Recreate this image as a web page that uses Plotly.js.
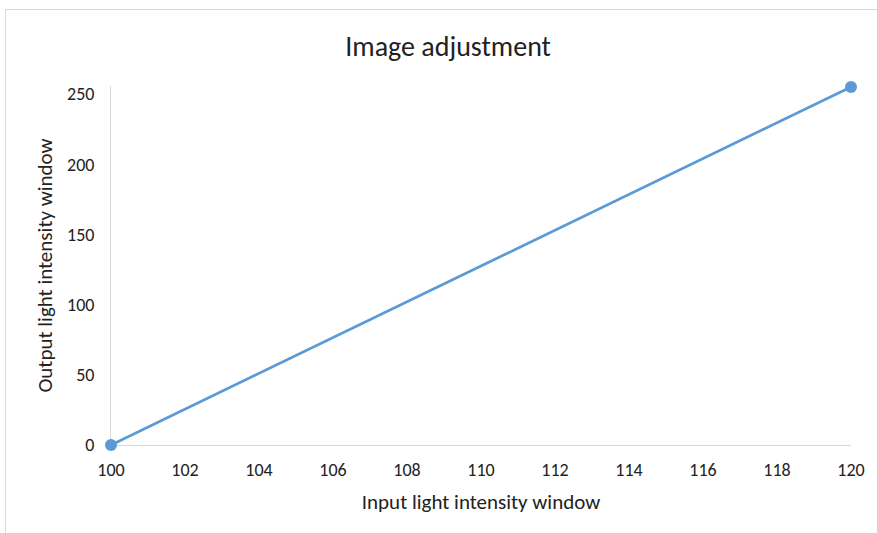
<!DOCTYPE html>
<html>
<head>
<meta charset="utf-8">
<script src="https://cdn.plot.ly/plotly-3.0.1.min.js"></script>
<style>
  html, body { margin: 0; padding: 0; background: #fff; }
  #wrap { position: relative; width: 877px; height: 533px; overflow: hidden; }
  #chart { position: absolute; left: 0; top: 0; width: 877px; height: 533px; }
  #frame { position: absolute; left: 5px; top: 9px; width: 900px; height: 600px;
           border: 1px solid #d9d9d9; pointer-events: none; }
</style>
</head>
<body>
<div id="wrap">
  <div id="chart"></div>
  <div id="frame"></div>
</div>
<script>
// Input window endpoints mapped to output intensity
const inputLevels = [100, 120];
const outputLevels = [0, 255];
const xTicks = [100, 102, 104, 106, 108, 110, 112, 114, 116, 118, 120];
const yTicks = [0, 50, 100, 150, 200, 250];

const fontFam = 'Carlito, Lato, "Open Sans", sans-serif';
const blue = '#5B9BD5';
const textCol = '#222222';

const trace = {
  x: inputLevels,
  y: outputLevels,
  type: 'scatter',
  mode: 'lines+markers',
  line: { color: blue, width: 2.75 },
  marker: { color: blue, size: 12 },
  cliponaxis: false,
  hoverinfo: 'skip'
};

const layout = {
  width: 877,
  height: 533,
  margin: { l: 111, r: 26, t: 86, b: 88 },
  paper_bgcolor: '#ffffff',
  plot_bgcolor: '#ffffff',
  showlegend: false,
  title: {
    text: 'Image adjustment',
    font: { family: fontFam, size: 28, color: textCol },
    x: 0.511, xanchor: 'center',
    y: 0.913, yanchor: 'middle'
  },
  xaxis: {
    range: [100, 120],
    tickvals: xTicks,
    ticktext: xTicks.map(String),
    showgrid: false,
    zeroline: false,
    showline: true,
    linecolor: '#d9d9d9',
    linewidth: 1,
    ticks: '',
    layer: 'below traces',
    ticklabelstandoff: 8,
    tickfont: { family: fontFam, size: 18, color: textCol },
    title: { text: 'Input light intensity window', font: { family: fontFam, size: 21, color: textCol }, standoff: 14 }
  },
  yaxis: {
    range: [0, 255.7],
    tickvals: yTicks,
    ticktext: yTicks.map(String),
    showgrid: false,
    zeroline: false,
    showline: true,
    linecolor: '#d9d9d9',
    linewidth: 1,
    ticks: '',
    layer: 'below traces',
    ticklabelstandoff: 12,
    tickfont: { family: fontFam, size: 18, color: textCol },
    title: { text: 'Output light intensity window', font: { family: fontFam, size: 21, color: textCol }, standoff: 8 }
  }
};

Plotly.newPlot('chart', [trace], layout, { displayModeBar: false, staticPlot: true });
</script>
</body>
</html>
